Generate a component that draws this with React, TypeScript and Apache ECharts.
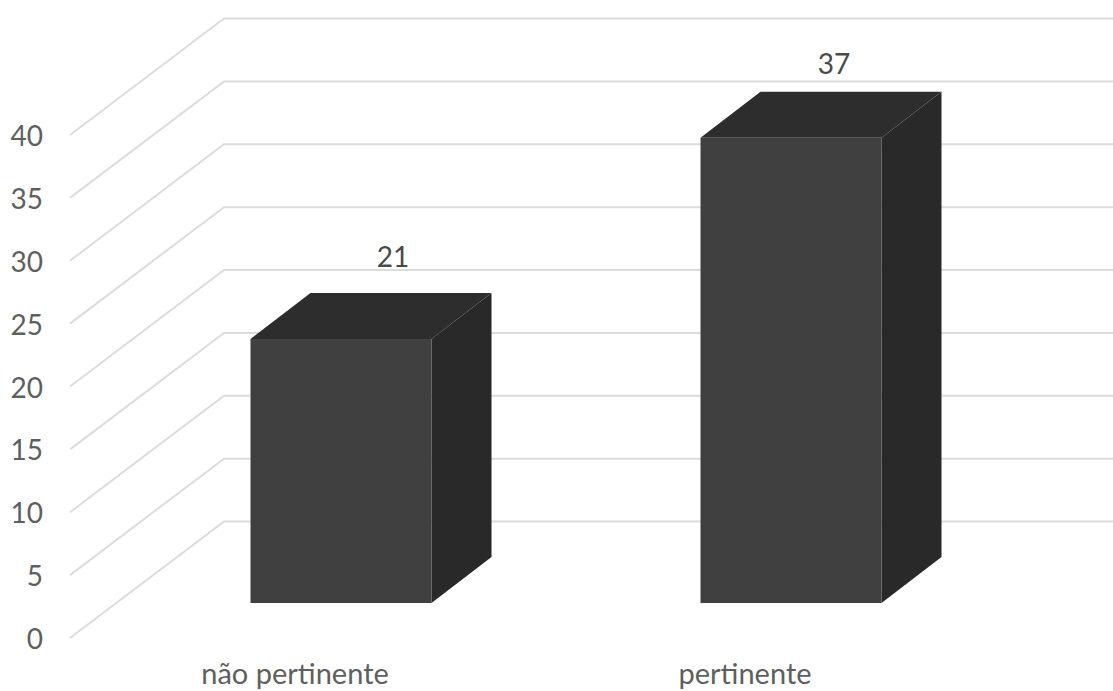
import React, { useEffect, useRef } from "react";
import * as echarts from "echarts";

const categories = ["não pertinente", "pertinente"];
const counts = [21, 37];
const axisTicks = [0, 5, 10, 15, 20, 25, 30, 35, 40];

// Pixel offsets of the oblique projection
const WALL_DX = 154;
const WALL_DY = 116.5;
const BAR_SHIFT_X = 46;
const BAR_SHIFT_Y = 35;
const BAR_WIDTH = 181;
const BAR_DX = 60;
const BAR_DY = 46;
const LABEL_SHIFT_X = [52, 43];
const LABEL_GAP = [37, 29];

const FONT = "Lato";
const TEXT_COLOR = "#5f5f5f";

function renderWall(params: any, api: any) {
  const y = api.coord([0, api.value(0)])[1];
  const x0 = params.coordSys.x;
  return {
    type: "polyline",
    silent: true,
    shape: {
      points: [
        [x0, y],
        [x0 + WALL_DX, y - WALL_DY],
        [1113, y - WALL_DY],
      ],
    },
    style: { fill: "none", stroke: "#dcdcdc", lineWidth: 2 },
  };
}

function renderBar(params: any, api: any) {
  const idx = api.value(0);
  const [cx, topY] = api.coord([idx, api.value(1)]);
  const baseY = api.coord([idx, 0])[1];
  const left = cx + BAR_SHIFT_X - BAR_WIDTH / 2;
  const right = left + BAR_WIDTH;
  const top = topY - BAR_SHIFT_Y;
  const bottom = baseY - BAR_SHIFT_Y;
  return {
    type: "group",
    children: [
      {
        type: "polygon",
        shape: {
          points: [
            [right, top],
            [right + BAR_DX, top - BAR_DY],
            [right + BAR_DX, bottom - BAR_DY],
            [right, bottom],
          ],
        },
        style: { fill: "#292929" },
      },
      {
        type: "polygon",
        shape: {
          points: [
            [left, top],
            [left + BAR_DX, top - BAR_DY],
            [right + BAR_DX, top - BAR_DY],
            [right, top],
          ],
        },
        style: { fill: "#2d2d2d" },
      },
      {
        type: "rect",
        shape: { x: left, y: top, width: BAR_WIDTH, height: bottom - top },
        style: { fill: "#404040" },
      },
      {
        type: "text",
        style: {
          x: cx + BAR_SHIFT_X + LABEL_SHIFT_X[params.dataIndex],
          y: top - BAR_DY - LABEL_GAP[params.dataIndex],
          text: String(api.value(1)),
          fill: "#4a4a4a",
          font: `28px ${FONT}`,
          align: "center",
          verticalAlign: "middle",
        },
      },
    ],
  };
}

export default function App() {
  const ref = useRef<HTMLDivElement>(null);

  useEffect(() => {
    const chart = echarts.init(ref.current!, null, { renderer: "svg" });
    chart.setOption({
      animation: false,
      backgroundColor: "#ffffff",
      grid: { left: 70, top: 135, width: 900, height: 503 },
      xAxis: {
        type: "category",
        data: categories,
        axisLine: { show: false },
        axisTick: { show: false },
        axisLabel: {
          color: TEXT_COLOR,
          fontFamily: FONT,
          fontSize: 29,
          margin: 20,
        },
      },
      yAxis: {
        type: "value",
        min: 0,
        max: 40,
        interval: 5,
        axisLine: { show: false },
        axisTick: { show: false },
        splitLine: { show: false },
        axisLabel: {
          color: TEXT_COLOR,
          fontFamily: FONT,
          fontSize: 28,
          margin: 27,
        },
      },
      series: [
        {
          type: "custom",
          renderItem: renderWall,
          data: axisTicks.map((v) => [v]),
          encode: { y: 0 },
          clip: false,
          z: 1,
        },
        {
          type: "custom",
          renderItem: renderBar,
          data: counts.map((v, i) => [i, v]),
          encode: { x: 0, y: 1 },
          clip: false,
          z: 2,
        },
      ],
    });
    return () => chart.dispose();
  }, []);

  return (
    <div
      ref={ref}
      style={{ position: "absolute", left: 0, top: 0, width: 1113, height: 691 }}
    />
  );
}
